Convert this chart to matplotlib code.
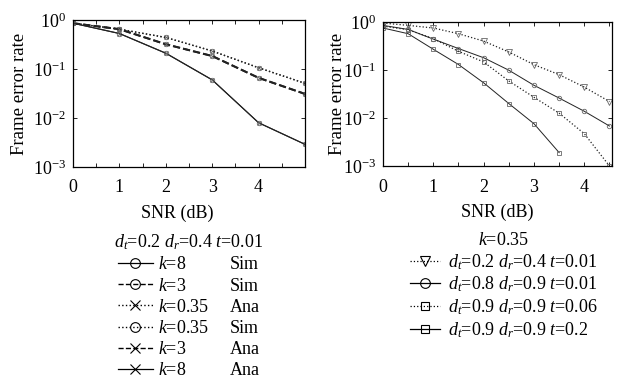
import matplotlib
matplotlib.use("Agg")
import matplotlib.pyplot as plt
from matplotlib.lines import Line2D
from matplotlib.ticker import FixedLocator, NullLocator, LogLocator

plt.rcParams['font.family'] = ['Liberation Serif', 'DejaVu Serif']
plt.rcParams['mathtext.fontset'] = 'custom'
plt.rcParams['mathtext.rm'] = 'Liberation Serif'
plt.rcParams['mathtext.it'] = 'Liberation Serif:italic'
plt.rcParams['font.size'] = 13

# ---- left panel data ----
snr_left = [0, 1, 2, 3, 4, 5]
k035_sim = [0.86, 0.65, 0.44, 0.233, 0.106, 0.051]
k035_ana = [0.86, 0.65, 0.44, 0.233, 0.106, 0.051]
k3_sim = [0.86, 0.65, 0.32, 0.184, 0.066, 0.031]
k3_ana = [0.86, 0.65, 0.32, 0.184, 0.066, 0.031]
k8_sim = [0.86, 0.53, 0.21, 0.060, 0.0080, 0.0029]
k8_ana = [0.86, 0.53, 0.21, 0.060, 0.0080, 0.0029]
left_labels = ["$k$=8", "$k$=3", "$k$=0.35", "$k$=0.35", "$k$=3", "$k$=8"]
left_kinds = ["Sim", "Sim", "Ana", "Sim", "Ana", "Ana"]
left_title = "$d_t$=0.2 $d_r$=0.4 $t$=0.01"

# ---- right panel data ----
snr_right = [0, 0.5, 1, 1.5, 2, 2.5, 3, 3.5, 4, 4.5]
snr_right_short = [0, 0.5, 1, 1.5, 2, 2.5, 3, 3.5]
fer_a = [0.95, 0.85, 0.75, 0.57, 0.40, 0.237, 0.129, 0.080, 0.044, 0.022]
fer_b = [0.85, 0.70, 0.44, 0.28, 0.18, 0.099, 0.048, 0.026, 0.0138, 0.0068]
fer_c = [0.82, 0.69, 0.45, 0.245, 0.147, 0.059, 0.027, 0.0126, 0.0047, 0.001]
fer_d = [0.75, 0.57, 0.27, 0.13, 0.054, 0.020, 0.0076, 0.0019]
right_labels = ["$d_t$=0.2 $d_r$=0.4 $t$=0.01",
                "$d_t$=0.8 $d_r$=0.9 $t$=0.01",
                "$d_t$=0.9 $d_r$=0.9 $t$=0.06",
                "$d_t$=0.9 $d_r$=0.9 $t$=0.2"]
right_title = "$k$=0.35"
xtick_labels = ["0", "1", "2", "3", "4"]

fig = plt.figure(figsize=(6.2, 3.81), dpi=100)
axL = fig.add_axes([73/620, 1-167/381, 232/620, 147/381])
axR = fig.add_axes([383/620, 1-166/381, 229/620, 144/381])

LC = '#222222'
MC = '#666666'
ms = 3.2

def style(ax, xmax, ylab_x):
    ax.set_yscale('log')
    ax.set_ylim(1e-3, 1)
    ax.set_xlim(0, xmax)
    ax.xaxis.set_major_locator(FixedLocator([0, 1, 2, 3, 4]))
    ax.set_xticklabels(xtick_labels)
    ax.xaxis.set_minor_locator(FixedLocator([0.5, 1.5, 2.5, 3.5, 4.5]))
    ax.yaxis.set_major_locator(LogLocator(base=10, numticks=10))
    ax.yaxis.set_minor_locator(NullLocator())
    ax.tick_params(which='both', direction='in', top=True, right=True, length=3, width=0.6)
    ax.tick_params(axis='y', labelsize=13, pad=5)
    ax.tick_params(axis='x', labelsize=13, pad=9)
    for s in ax.spines.values():
        s.set_linewidth(0.9)
    ax.set_ylabel("Frame error rate", fontsize=13.5)
    ax.yaxis.set_label_coords(ylab_x, 0.5)
    ax.set_xlabel("SNR (dB)", fontsize=13)

# left panel
axL.plot(snr_left, k035_sim, ls=':', lw=1.0, color=LC, marker='o', ms=ms, mfc='none', mec=MC, mew=0.6)
axL.plot(snr_left, k035_ana, ls=':', lw=1.0, color=LC, marker='x', ms=ms, mec=MC, mew=0.6)
axL.plot(snr_left, k3_sim, ls='--', lw=1.4, color=LC, marker='o', ms=ms, mfc='none', mec=MC, mew=0.6)
axL.plot(snr_left, k3_ana, ls='--', lw=1.4, color=LC, marker='x', ms=ms, mec=MC, mew=0.6)
axL.plot(snr_left, k8_sim, ls='-', lw=0.8, color=LC, marker='o', ms=ms, mfc='none', mec=MC, mew=0.6)
axL.plot(snr_left, k8_ana, ls='-', lw=0.8, color=LC, marker='x', ms=ms, mec=MC, mew=0.6)
style(axL, 5, -0.193)
axL.xaxis.set_label_coords(0.45, -0.255)

# right panel
axR.plot(snr_right, fer_a, ls=':', lw=0.9, color=LC, marker='v', ms=ms+0.5, mfc='none', mec=MC, mew=0.6)
axR.plot(snr_right, fer_b, ls='-', lw=0.7, color=LC, marker='o', ms=ms, mfc='none', mec=MC, mew=0.6)
axR.plot(snr_right, fer_c, ls=':', lw=0.9, color=LC, marker='s', ms=ms, mfc='none', mec=MC, mew=0.6)
axR.plot(snr_right_short, fer_d, ls='-', lw=0.7, color=LC, marker='s', ms=ms, mfc='none', mec=MC, mew=0.6)
style(axR, 4.55, -0.16)
axR.xaxis.set_label_coords(0.5, -0.26)

# left legend: column 1 handles+labels, column 2 Sim/Ana
lstyles = {'$k$=8': ('-', 0.9), '$k$=3': ('--', 1.0), '$k$=0.35': (':', 1.0)}
h1 = []
for lab, kind in zip(left_labels, left_kinds):
    ls, lw = lstyles[lab]
    mk = 'o' if kind == 'Sim' else 'x'
    h1.append(Line2D([], [], ls=ls, lw=lw, color='black', marker=mk, ms=7, mfc='none', mec='black', mew=0.8))
h2 = [Line2D([], [], ls='none', marker=None) for _ in left_kinds]
legL = axL.legend(h1 + h2, left_labels + left_kinds, ncol=2, loc='upper center',
                  bbox_to_anchor=(0.50, -0.36), frameon=False, fontsize=13,
                  title=left_title, title_fontsize=13, handlelength=1.95,
                  handletextpad=0.3, columnspacing=-1.1, labelspacing=0.23,
                  borderpad=0.2)

rh = [Line2D([], [], ls=':', lw=0.9, color='black', marker='v', ms=7, mfc='none', mec='black', mew=0.8),
      Line2D([], [], ls='-', lw=0.9, color='black', marker='o', ms=7, mfc='none', mec='black', mew=0.8),
      Line2D([], [], ls=':', lw=0.9, color='black', marker='s', ms=6, mfc='none', mec='black', mew=0.8),
      Line2D([], [], ls='-', lw=0.9, color='black', marker='s', ms=6, mfc='none', mec='black', mew=0.8)]
legR = axR.legend(rh, right_labels, loc='upper center', bbox_to_anchor=(0.527, -0.37),
                  frameon=False, fontsize=13, title=right_title, title_fontsize=13,
                  handlelength=1.67, handletextpad=0.45, labelspacing=0.17, borderpad=0.2)

fig.savefig("out.png", dpi=100)
